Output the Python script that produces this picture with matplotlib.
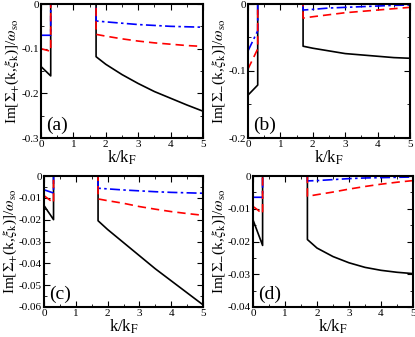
import matplotlib
matplotlib.use("Agg")
import matplotlib.pyplot as plt
from matplotlib.ticker import MultipleLocator, FuncFormatter

plt.rcParams['font.family'] = ['Liberation Serif', 'DejaVu Serif']
plt.rcParams['mathtext.fontset'] = 'stix'

# k grid: left piece (0..0.3), zero gap (0.3..1.7), right piece (1.7..5)
k = [0, 0.1, 0.2, 0.3, 0.3, 1.7, 1.7, 2.0, 2.5, 3.0, 3.5, 4.0, 4.5, 5.0]

# (a) Im Sigma_+ , strong coupling
a_black = [-0.140, -0.147, -0.154, -0.161, 0, 0, -0.118, -0.135, -0.158, -0.178, -0.196, -0.211, -0.226, -0.240]
a_blue = [-0.070, -0.070, -0.070, -0.070, 0, 0, -0.038, -0.040, -0.043, -0.046, -0.048, -0.050, -0.051, -0.052]
a_red = [-0.100, -0.102, -0.104, -0.106, 0, 0, -0.068, -0.072, -0.078, -0.083, -0.087, -0.090, -0.093, -0.095]

# (b) Im Sigma_- , strong coupling
b_black = [-0.136, -0.131, -0.126, -0.121, 0, 0, -0.063, -0.066, -0.070, -0.074, -0.076, -0.078, -0.080, -0.081]
b_blue = [-0.070, -0.060, -0.050, -0.040, 0, 0, -0.009, -0.008, -0.006, -0.005, -0.004, -0.003, -0.002, -0.0015]
b_red = [-0.097, -0.087, -0.077, -0.067, 0, 0, -0.021, -0.019, -0.016, -0.013, -0.011, -0.009, -0.007, -0.005]

# (c) Im Sigma_+ , weak coupling
c_black = [-0.0135, -0.0157, -0.0178, -0.0200, 0, 0, -0.0205, -0.0245, -0.0305, -0.0365, -0.0425, -0.0480, -0.0535, -0.0590]
c_blue = [-0.0063, -0.0068, -0.0073, -0.0078, 0, 0, -0.0056, -0.0059, -0.0064, -0.0068, -0.0072, -0.0075, -0.0077, -0.0079]
c_red = [-0.0090, -0.0101, -0.0112, -0.0123, 0, 0, -0.0105, -0.0113, -0.0125, -0.0140, -0.0152, -0.0163, -0.0172, -0.0180]

# (d) Im Sigma_- , weak coupling
d_black = [-0.0134, -0.0160, -0.0186, -0.0212, 0, 0, -0.0194, -0.0220, -0.0246, -0.0265, -0.0279, -0.0288, -0.0294, -0.0298]
d_blue = [-0.0065, -0.0065, -0.0065, -0.0065, 0, 0, -0.0015, -0.0014, -0.0011, -0.0008, -0.0006, -0.0005, -0.0004, -0.0003]
d_red = [-0.0093, -0.0100, -0.0108, -0.0115, 0, 0, -0.0062, -0.0057, -0.0049, -0.0040, -0.0032, -0.0025, -0.0019, -0.0014]

W, H = 415, 337
fig = plt.figure(figsize=(W / 100, H / 100), dpi=100)


def box(l, r, t, b):
    return [l / W, 1 - b / H, (r - l) / W, (b - t) / H]


panels = [
    (box(41, 203, 4, 138), a_black, a_blue, a_red, -0.3, 0.1, '(a)', '+'),
    (box(248, 410, 4, 138), b_black, b_blue, b_red, -0.2, 0.1, '(b)', '-'),
    (box(44, 203, 176, 307), c_black, c_blue, c_red, -0.06, 0.01, '(c)', '+'),
    (box(253, 413, 176, 307), d_black, d_blue, d_red, -0.04, 0.01, '(d)', '-'),
]


def fmt(v, pos):
    if abs(v) < 1e-12:
        return '0'
    return ('%.2f' % v).rstrip('0')


for rect, yk, yb, yr, ymin, step, tag, sign in panels:
    ax = fig.add_axes(rect)
    ax.plot(k, yk, color='black', lw=1.2)
    ax.plot(k, yb, color='#0000ff', lw=1.2, ls=(0, (6, 2, 1.5, 2)))
    ax.plot(k, yr, color='#ff0000', lw=1.2, ls=(0, (5, 3)))
    ax.set_xlim(0, 5)
    ax.set_ylim(ymin, 0)
    ax.xaxis.set_major_locator(MultipleLocator(1))
    ax.xaxis.set_minor_locator(MultipleLocator(0.5))
    ax.yaxis.set_major_locator(MultipleLocator(step))
    ax.yaxis.set_minor_locator(MultipleLocator(step / 2))
    ax.yaxis.set_major_formatter(FuncFormatter(fmt))
    ax.tick_params(which='both', direction='in', top=True, right=True, labelsize=8, pad=1.5)
    ax.tick_params(which='major', length=4, width=0.8)
    ax.tick_params(which='minor', length=2, width=0.6)
    for s in ax.spines.values():
        s.set_linewidth(1.5)
    ax.set_xlabel(r'k/k$_\mathrm{F}$', fontsize=12, labelpad=0)
    ax.set_ylabel(r'Im[$\Sigma_{%s}$(k,$\xi_\mathrm{k}$)]/$\omega_\mathrm{so}$' % sign,
                  fontsize=11, labelpad=0)
    ax.text(0.03, 0.03, tag, transform=ax.transAxes, fontsize=14, ha='left', va='bottom')

fig.savefig('out.png', dpi=100)
